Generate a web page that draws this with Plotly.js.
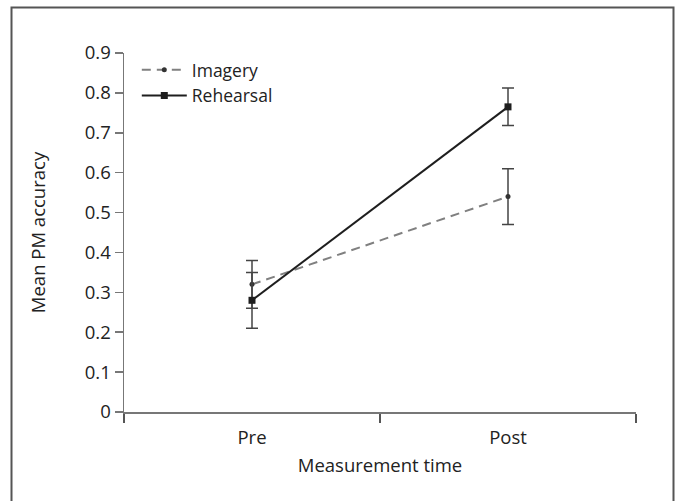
<!DOCTYPE html>
<html>
<head>
<meta charset="utf-8">
<script src="https://cdn.plot.ly/plotly-3.0.1.min.js"></script>
<style>
  html, body { margin: 0; padding: 0; background: #fff; }
  #chart { width: 678px; height: 501px; }
</style>
</head>
<body>
<div id="chart"></div>
<script>
// Data
const categories = ["Pre", "Post"];
const imageryMean = [0.32, 0.54];
const imageryErr = [0.06, 0.07];
const rehearsalMean = [0.28, 0.765];
const rehearsalErr = [0.07, 0.047];
const yTickVals = [0, 0.1, 0.2, 0.3, 0.4, 0.5, 0.6, 0.7, 0.8, 0.9];
const yTickText = ["0", "0.1", "0.2", "0.3", "0.4", "0.5", "0.6", "0.7", "0.8", "0.9"];

const FONT = "Open Sans, Noto Sans, sans-serif";
const FS = 18.5;

const traces = [
  {
    type: "scatter", mode: "lines+markers", name: "Imagery",
    x: categories, y: imageryMean,
    line: { color: "#808080", width: 2, dash: "9px,6px" },
    marker: { symbol: "circle", size: 5, color: "#333333" },
    error_y: { type: "data", array: imageryErr, visible: true, color: "#444444", thickness: 1.5, width: 6 }
  },
  {
    type: "scatter", mode: "lines+markers", name: "Rehearsal",
    x: categories, y: rehearsalMean,
    line: { color: "#1e1e1e", width: 2 },
    marker: { symbol: "square", size: 7, color: "#1e1e1e" },
    error_y: { type: "data", array: rehearsalErr, visible: true, color: "#444444", thickness: 1.5, width: 6 }
  }
];

const plotH = 412 - 52.5;
const plotW = 636 - 124;

const layout = {
  width: 678, height: 501,
  margin: { l: 124, r: 42, t: 52.5, b: 89, pad: 0 },
  paper_bgcolor: "#ffffff", plot_bgcolor: "#ffffff",
  font: { family: FONT, size: FS, color: "#222222" },
  showlegend: true,
  legend: {
    x: 0.025, y: 1.003, xanchor: "left", yanchor: "top",
    bgcolor: "rgba(0,0,0,0)", font: { family: FONT, size: 17.5, color: "#222" },
    tracegroupgap: 0, itemwidth: 45
  },
  xaxis: {
    type: "category", range: [-0.5, 1.5],
    tickson: "boundaries", ticks: "outside", ticklen: 9, tickwidth: 1.5, tickcolor: "#555",
    ticklabelstandoff: 8,
    showline: true, linecolor: "#777", linewidth: 1.5,
    showgrid: false, zeroline: false,
    tickfont: { family: FONT, size: FS, color: "#222" },
    title: { text: "Measurement time", font: { family: FONT, size: FS, color: "#222" }, standoff: 11 },
    fixedrange: true
  },
  yaxis: {
    range: [0, 0.9], tickvals: yTickVals, ticktext: yTickText,
    ticks: "outside", ticklen: 8, tickwidth: 1.5, tickcolor: "#777",
    showline: true, linecolor: "#777", linewidth: 1.5,
    showgrid: false, zeroline: false,
    tickfont: { family: FONT, size: FS, color: "#222" },
    title: { text: "Mean PM accuracy", font: { family: FONT, size: FS, color: "#222" }, standoff: 34 },
    fixedrange: true
  },
  shapes: [
    {
      type: "rect", xref: "paper", yref: "paper",
      x0: (11.5 - 124) / plotW, x1: (673.5 - 124) / plotW,
      y0: -(530 - 412) / plotH, y1: (412 - 7) / plotH,
      line: { color: "#555555", width: 2 }, fillcolor: "rgba(0,0,0,0)", layer: "below"
    }
  ]
};

Plotly.newPlot("chart", traces, layout, { displayModeBar: false, staticPlot: true });
</script>
</body>
</html>
